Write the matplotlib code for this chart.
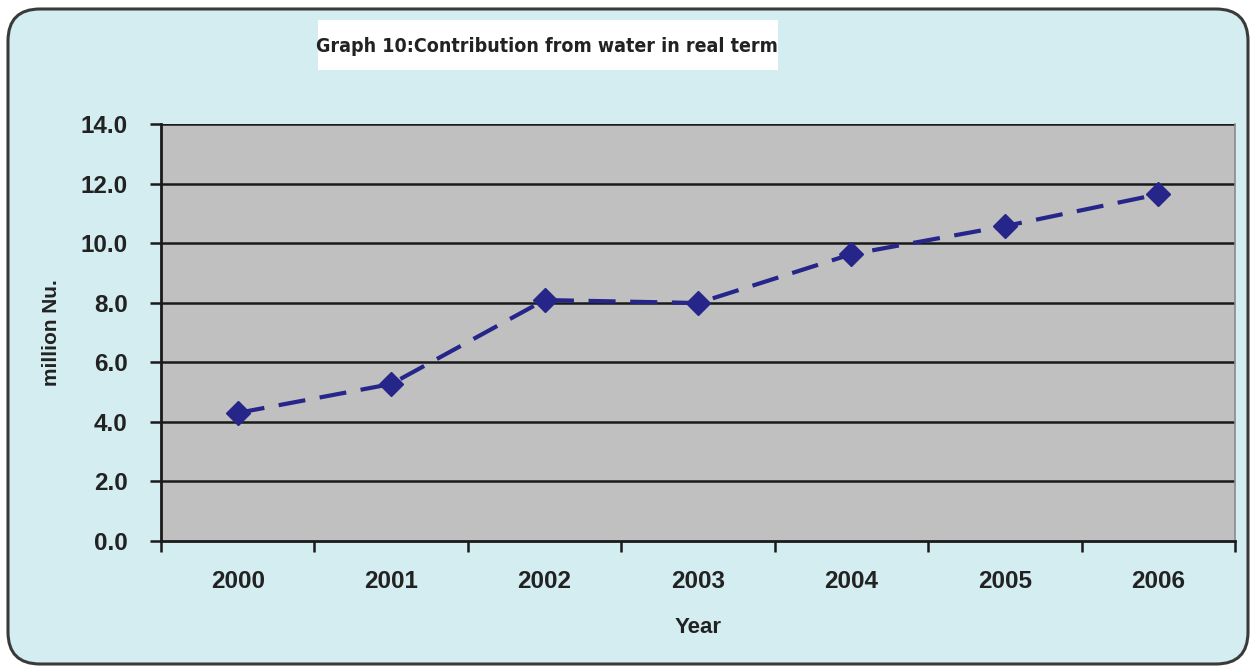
import matplotlib
matplotlib.use("Agg")
import matplotlib.pyplot as plt
from matplotlib.patches import FancyBboxPatch
from matplotlib.font_manager import FontProperties
from matplotlib.ticker import FixedLocator, NullFormatter, FixedFormatter

years = ["2000", "2001", "2002", "2003", "2004", "2005", "2006"]
contribution = [4.3, 5.27, 8.09, 7.99, 9.63, 10.57, 11.64]
y_ticks = [0, 2, 4, 6, 8, 10, 12, 14]
y_tick_labels = ["0.0", "2.0", "4.0", "6.0", "8.0", "10.0", "12.0", "14.0"]

W, H = 1254, 669
fig = plt.figure(figsize=(W / 100, H / 100), dpi=100)
fig.patch.set_facecolor("white")

# background layer in pixel units holding the rounded light-blue frame
bg = fig.add_axes([0, 0, 1, 1], zorder=0)
bg.set_xlim(0, W)
bg.set_ylim(H, 0)
bg.axis("off")
bg.add_patch(FancyBboxPatch((8, 9), 1240, 655,
                            boxstyle="round,pad=0,rounding_size=32",
                            facecolor="#d3edf1", edgecolor="#3a3a3a",
                            linewidth=2.2))
# white title box
bg.add_patch(plt.Rectangle((318, 20), 460, 50, facecolor="white",
                           edgecolor="none"))
bg.text(547, 46, "Graph 10:Contribution from water in real term",
        ha="center", va="center", family="DejaVu Sans", stretch="condensed",
        weight="bold", fontsize=14, color="#222222")

ax = fig.add_axes([161 / W, 1 - 541 / H, 1074 / W, 417 / H], zorder=1)
ax.set_facecolor("#c0c0c0")

x = list(range(len(years)))
ax.plot(x, contribution, color="#26268a", linewidth=3.0,
        linestyle=(0, (6.5, 3.5)), marker="D", markersize=12.5,
        markerfacecolor="#26268a", markeredgecolor="#26268a", zorder=3)

ax.set_xlim(-0.5, len(years) - 0.5)
ax.set_ylim(0, 14)

ax.yaxis.set_major_locator(FixedLocator(y_ticks))
ax.yaxis.set_major_formatter(FixedFormatter(y_tick_labels))
for v in y_ticks[1:]:
    ax.axhline(v, color="#1a1a1a", linewidth=1.8, zorder=1)

# category boundaries carry tick marks, centres carry labels
ax.xaxis.set_major_locator(FixedLocator([i - 0.5 for i in range(len(years) + 1)]))
ax.xaxis.set_major_formatter(NullFormatter())
ax.xaxis.set_minor_locator(FixedLocator(x))
ax.xaxis.set_minor_formatter(FixedFormatter(years))

ax.tick_params(axis="x", which="major", direction="out", length=8, width=1.8,
               color="#1a1a1a")
ax.tick_params(axis="x", which="minor", length=0, pad=21)
ax.tick_params(axis="y", direction="out", length=8, width=1.8,
               color="#1a1a1a", pad=16)

tick_font = FontProperties(family="Liberation Sans", weight="bold", size=17.5)
for lbl in ax.get_yticklabels() + ax.get_xticklabels(minor=True):
    lbl.set_fontproperties(tick_font)
    lbl.set_color("#222222")

for side in ("left", "bottom"):
    ax.spines[side].set_color("#1a1a1a")
    ax.spines[side].set_linewidth(2.0)
ax.spines["top"].set_visible(False)
ax.spines["right"].set_color("#8a8a8a")
ax.spines["right"].set_linewidth(1.2)

ax.set_ylabel("million Nu.", family="Liberation Sans", weight="bold",
              fontsize=15, color="#222222", labelpad=14)
ax.set_xlabel("Year", family="Liberation Sans", weight="bold",
              fontsize=16, color="#222222", labelpad=17)

fig.savefig("out.png", dpi=100, facecolor="white")
